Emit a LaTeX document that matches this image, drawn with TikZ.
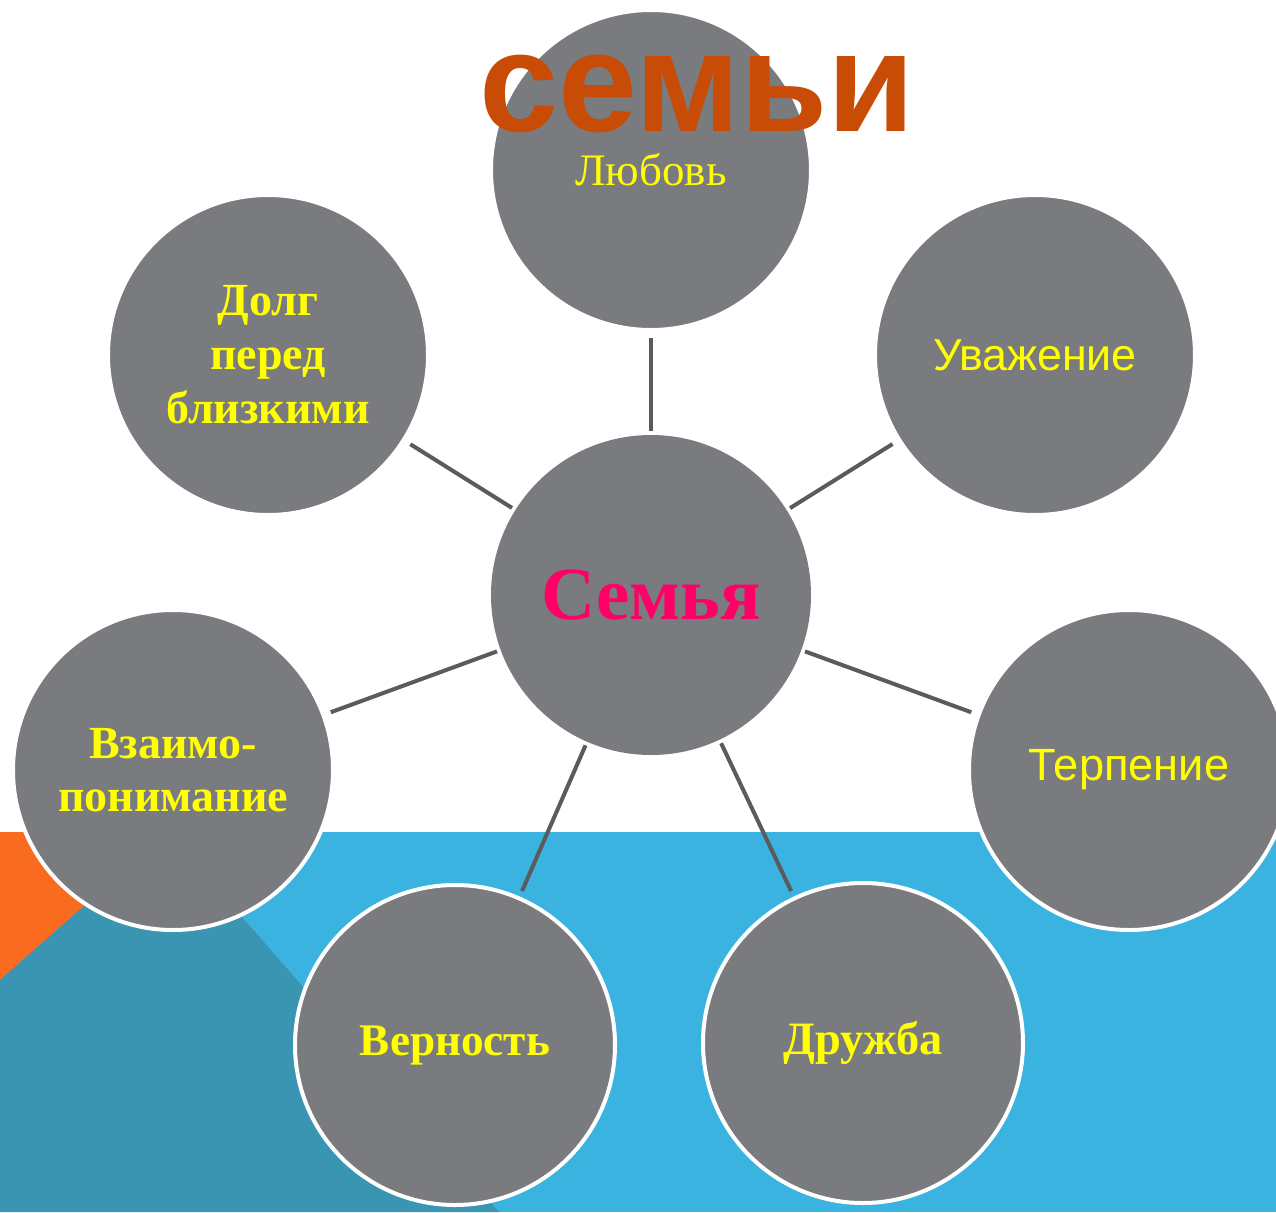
\documentclass[tikz,border=0pt]{standalone}
\usepackage{fontspec}
\setmainfont{Liberation Serif}
\newfontfamily\arialf{Liberation Sans}
\definecolor{circgrey}{HTML}{7A7B7F}
\definecolor{txtyellow}{HTML}{FFFF00}
\definecolor{famipink}{HTML}{FF0066}
\definecolor{titlecol}{HTML}{C84B06}
\definecolor{bandblue}{HTML}{3BB3E0}
\definecolor{bandteal}{HTML}{3A95B2}
\definecolor{bandorange}{HTML}{F96B1E}
\definecolor{linecol}{HTML}{5B5B5D}
\tikzset{
  bubble/.style={circle, fill=circgrey, draw=white, line width=2pt, minimum size=160pt, inner sep=0pt, text=txtyellow, align=center},
  link/.style={draw=linecol, line width=2pt, shorten >=3pt, shorten <=1pt}
}
\begin{document}
\begin{tikzpicture}[x=0.5pt,y=-0.5pt]
\useasboundingbox (0,0) rectangle (1276,1212);
\fill[white] (0,0) rectangle (1276,1212);
\fill[bandblue] (0,832) rectangle (1276,1212);
\fill[bandorange] (0,832) -- (168,832) -- (0,980) -- cycle;
\fill[bandteal] (168,832) -- (499,1212) -- (0,1212) -- (0,980) -- cycle;

\node[bubble, draw=none, text=famipink, font=\fontsize{37.5}{40}\selectfont\bfseries] (fam) at (651,595) {Семья};
\node[bubble, font=\fontsize{22.5}{26}\selectfont] (love) at (651,170) {Любовь};
\node[bubble, font=\arialf\fontsize{22.4}{26}\selectfont] (resp) at (1035,355) {Уважение};
\node[bubble, font=\fontsize{23}{27}\selectfont\bfseries] (duty) at (268,355) {Долг\\перед\\близкими};
\node[bubble, font=\fontsize{23}{26.5}\selectfont\bfseries] (under) at (173,770) {Взаимо-\\понимание};
\node[bubble, font=\arialf\fontsize{22.6}{26}\selectfont] (pat) at (1129,770) {Терпение};
\node[bubble, font=\fontsize{22.6}{26}\selectfont\bfseries] (faith) at (455,1045) {Верность};
\node[bubble, font=\fontsize{23.2}{26}\selectfont\bfseries] (friend) at (863,1043) {Дружба};

\draw[link] (fam) -- (love);
\draw[link] (fam) -- (resp);
\draw[link] (fam) -- (duty);
\draw[link] (fam) -- (under);
\draw[link] (fam) -- (pat);
\draw[link] (fam) -- (faith);
\draw[link] (fam) -- (friend);

\node[anchor=base, inner sep=0pt, text=titlecol, font=\arialf\fontsize{71}{76}\selectfont\bfseries] (title) at (697,131) {семьи};
\end{tikzpicture}
\end{document}
